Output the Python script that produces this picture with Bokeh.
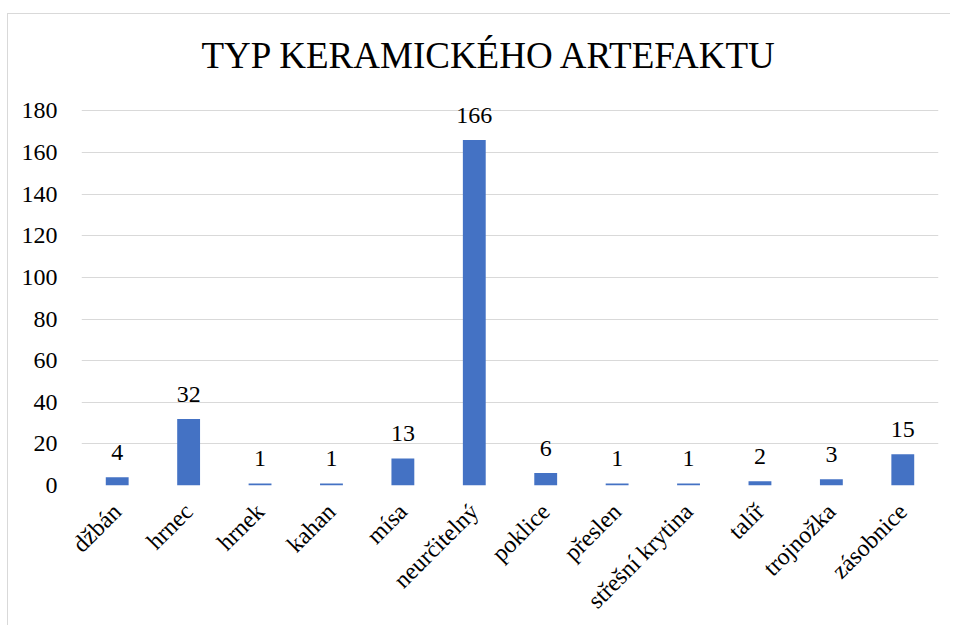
import math
from bokeh.plotting import figure
from bokeh.models import ColumnDataSource, LabelSet, Range1d, FactorRange
from bokeh.embed import file_html
from bokeh.resources import INLINE

categories = ["džbán", "hrnec", "hrnek", "kahan", "mísa", "neurčitelný", "poklice",
              "přeslen", "střešní krytina", "talíř", "trojnožka", "zásobnice"]
counts = [4, 32, 1, 1, 13, 166, 6, 1, 1, 2, 3, 15]
y_ticks = [0, 20, 40, 60, 80, 100, 120, 140, 160, 180]
title_text = "TYP KERAMICKÉHO ARTEFAKTU"

FONT = "Liberation Serif"

src = ColumnDataSource(dict(cat=categories, val=counts, lab=[str(v) for v in counts]))

p = figure(width=950, height=625, x_range=FactorRange(*categories), y_range=Range1d(0, 185),
           output_backend="svg", toolbar_location=None,
           min_border_left=81, min_border_right=12, min_border_top=100, min_border_bottom=138)
p.outline_line_color = None
p.background_fill_color = None
p.border_fill_color = None
p.styles = {
    "background": "linear-gradient(#d9d9d9,#d9d9d9) 7px 13px / 1px 100% no-repeat, "
                  "linear-gradient(#d9d9d9,#d9d9d9) 7px 13px / 100% 1px no-repeat"
}

p.vbar(x="cat", top="val", width=0.32, source=src, fill_color="#4472C4", line_color=None)

labels = LabelSet(x="cat", y="val", text="lab", source=src, text_align="center",
                  text_baseline="alphabetic", y_offset=17, text_font=FONT,
                  text_font_size="24px", text_color="#000000")
p.add_layout(labels)

p.title.text = title_text
p.title.text_font = FONT
p.title.text_font_size = "37px"
p.title.text_font_style = "normal"
p.title.text_color = "#000000"
p.title.align = "left"
p.title.offset = 120
p.title.standoff = 49

p.yaxis.ticker = y_ticks
p.yaxis.axis_line_color = None
p.yaxis.major_tick_line_color = None
p.yaxis.minor_tick_line_color = None
p.yaxis.major_label_text_font = FONT
p.yaxis.major_label_text_font_size = "24px"
p.yaxis.major_label_text_color = "#000000"
p.yaxis.major_label_standoff = 18

p.xaxis.axis_line_color = None
p.xaxis.major_tick_line_color = None
p.xaxis.major_label_orientation = math.pi / 4
p.xaxis.major_label_text_font = FONT
p.xaxis.major_label_text_font_size = "24px"
p.xaxis.major_label_text_color = "#000000"
p.xaxis.major_label_standoff = 16

p.xgrid.grid_line_color = None
p.ygrid.grid_line_color = "#d9d9d9"
p.ygrid.grid_line_width = 1

open("out.html", "w").write(file_html(p, INLINE))
